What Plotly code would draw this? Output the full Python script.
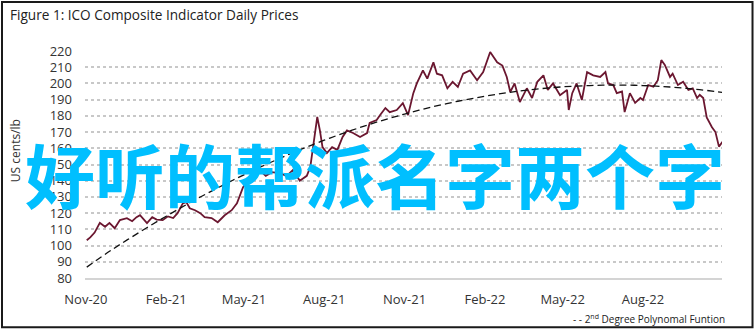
import plotly.graph_objects as go

# ---------------- data ----------------
price_dates = [
    "2020-11-02", "2020-11-06", "2020-11-11", "2020-11-17", "2020-11-23", "2020-11-28",
    "2020-12-04", "2020-12-10", "2020-12-18", "2020-12-24", "2020-12-29",
    "2021-01-02", "2021-01-10", "2021-01-16", "2021-01-21", "2021-01-28",
    "2021-02-03", "2021-02-09", "2021-02-14", "2021-02-20", "2021-02-24", "2021-02-28",
    "2021-03-06", "2021-03-12", "2021-03-17", "2021-03-25",
    "2021-04-01", "2021-04-09", "2021-04-17", "2021-04-23", "2021-04-30",
    "2021-05-04", "2021-05-08", "2021-05-11", "2021-05-19", "2021-05-26",
    "2021-06-02", "2021-06-11", "2021-06-19", "2021-06-26",
    "2021-07-04", "2021-07-12", "2021-07-16", "2021-07-19", "2021-07-24", "2021-07-27", "2021-07-30",
    "2021-08-04", "2021-08-10", "2021-08-16", "2021-08-22", "2021-08-27",
    "2021-09-03", "2021-09-11", "2021-09-19", "2021-09-22", "2021-09-30",
    "2021-10-04", "2021-10-10", "2021-10-15", "2021-10-23", "2021-10-30",
    "2021-11-05", "2021-11-11", "2021-11-15", "2021-11-22", "2021-11-27",
    "2021-12-04", "2021-12-08", "2021-12-14", "2021-12-20", "2021-12-26",
    "2022-01-01", "2022-01-07", "2022-01-15", "2022-01-23", "2022-01-30",
    "2022-02-07", "2022-02-15", "2022-02-21", "2022-02-26",
    "2022-03-02", "2022-03-07", "2022-03-13", "2022-03-21", "2022-03-27",
    "2022-04-02", "2022-04-09", "2022-04-14", "2022-04-20", "2022-04-28",
    "2022-05-06", "2022-05-08", "2022-05-12", "2022-05-17", "2022-05-23", "2022-05-29",
    "2022-06-05", "2022-06-13", "2022-06-19", "2022-06-22", "2022-06-28",
    "2022-07-02", "2022-07-08", "2022-07-11", "2022-07-17", "2022-07-23", "2022-07-29",
    "2022-08-01", "2022-08-07", "2022-08-13", "2022-08-18", "2022-08-22", "2022-08-26",
    "2022-09-01", "2022-09-04", "2022-09-10", "2022-09-16", "2022-09-22", "2022-09-27",
    "2022-10-02", "2022-10-05", "2022-10-09", "2022-10-13", "2022-10-19", "2022-10-23",
    "2022-10-27", "2022-10-31",
]
price_values = [
    103.3, 105.0, 108.0, 114.0, 111.6, 114.0,
    110.7, 115.7, 116.9, 115.0, 117.5,
    118.7, 113.8, 117.5, 116.0, 115.7,
    118.0, 117.0, 120.0, 126.0, 126.8, 123.0,
    121.8, 120.0, 117.5, 117.0,
    114.4, 118.7, 121.8, 126.0, 136.0,
    138.5, 140.0, 144.7, 146.5, 143.0,
    145.3, 144.7, 143.0, 146.5,
    140.0, 143.0, 148.4, 160.7, 179.3, 171.0, 160.7,
    157.0, 160.7, 159.0, 167.0, 171.0,
    169.4, 167.0, 169.4, 175.6, 177.4,
    180.5, 184.8, 182.3, 183.6, 187.9,
    180.5, 194.0, 200.0, 208.0, 203.0,
    213.0, 206.0, 205.0, 197.0, 201.0,
    197.8, 206.0, 208.0, 202.0, 207.0,
    219.4, 213.0, 211.0, 204.0,
    194.7, 200.0, 188.5, 197.0, 191.0,
    201.0, 205.0, 196.0, 200.0, 192.8,
    196.0, 183.6, 194.0, 200.0, 189.8, 207.0,
    205.0, 204.0, 207.0, 200.0, 199.0,
    194.0, 195.0, 182.3, 194.0, 188.0, 191.0,
    189.8, 199.0, 198.0, 202.0, 214.4, 211.4,
    204.0, 206.0, 199.0, 201.0, 196.0, 197.0,
    191.0, 193.0, 191.0, 179.0, 173.0, 170.0,
    161.0, 164.0,
]

trend_dates = [
    "2020-11-02", "2020-12-01", "2021-01-01", "2021-02-01", "2021-03-01", "2021-04-01",
    "2021-05-01", "2021-06-01", "2021-07-01", "2021-08-01", "2021-09-01", "2021-10-01",
    "2021-11-01", "2021-12-01", "2022-01-01", "2022-02-01", "2022-03-01", "2022-04-01",
    "2022-05-01", "2022-06-01", "2022-07-01", "2022-08-01", "2022-09-01", "2022-10-01",
    "2022-10-31",
]
trend_values = [
    86.7, 97.5, 108.1, 118.1, 126.7, 135.6,
    143.6, 151.4, 158.4, 165.0, 171.0, 176.3,
    181.1, 185.3, 189.0, 192.1, 194.5, 196.5,
    197.9, 198.7, 199.0, 198.7, 197.8, 196.4,
    194.5,
]

tick_dates = ["2020-11-01", "2021-02-01", "2021-05-01", "2021-08-01",
              "2021-11-01", "2022-02-01", "2022-05-01", "2022-08-01"]
tick_labels = ["Nov-20", "Feb-21", "May-21", "Aug-21",
               "Nov-21", "Feb-22", "May-22", "Aug-22"]
y_ticks = list(range(80, 230, 10))

title_text = "Figure 1: ICO Composite Indicator Daily Prices"
y_title = "US cents/lb"
legend_text = "- - 2<sup>nd</sup> Degree Polynomal Funtion"
overlay_text = "好听的帮派名字两个字"

FONT = "Open Sans, Lato, sans-serif"

fig = go.Figure()
fig.add_trace(go.Scatter(
    x=price_dates, y=price_values, mode="lines",
    line=dict(color="#6B1730", width=1.8),
    showlegend=False, hoverinfo="skip",
))
fig.add_trace(go.Scatter(
    x=trend_dates, y=trend_values, mode="lines",
    line=dict(color="#111111", width=1.3, dash="7px,4px", shape="spline"),
    showlegend=False, hoverinfo="skip",
))

fig.update_layout(
    width=755, height=333,
    margin=dict(l=85, r=33, t=51, b=55),
    paper_bgcolor="white", plot_bgcolor="white",
    font=dict(family=FONT, size=13, color="#333333"),
    showlegend=False,
    xaxis=dict(
        type="date",
        range=["2020-10-31", "2022-10-30 12:00"],
        tickvals=tick_dates, ticktext=tick_labels,
        showgrid=False, zeroline=False,
        showline=True, linecolor="#D4D4D4", linewidth=2,
        ticks="", ticklabelstandoff=8,
        tickfont=dict(family=FONT, size=13, color="#333333"),
        fixedrange=True,
    ),
    yaxis=dict(
        range=[80, 220],
        tickvals=y_ticks,
        showgrid=True, gridcolor="#C8C8C8", griddash="dot", gridwidth=1.5,
        zeroline=False, showline=False,
        ticks="", ticklabelstandoff=12,
        tickfont=dict(family=FONT, size=13, color="#333333"),
        fixedrange=True,
    ),
    annotations=[
        dict(text=title_text, xref="paper", yref="paper", x=-0.121, y=1.159,
             xanchor="left", yanchor="middle", showarrow=False,
             font=dict(family=FONT, size=13.6, color="#222222")),
        dict(text=y_title, xref="paper", yref="paper", x=-0.110, y=0.563,
             xanchor="center", yanchor="middle", showarrow=False, textangle=-90,
             font=dict(family=FONT, size=12, color="#333333")),
        dict(text=legend_text, xref="paper", yref="paper", x=1.008, y=-0.182,
             xanchor="right", yanchor="middle", showarrow=False,
             font=dict(family=FONT, size=10, color="#222222")),
        dict(text=overlay_text, xref="paper", yref="paper", x=0.456, y=0.462,
             xanchor="center", yanchor="middle", showarrow=False,
             font=dict(family="Noto Sans CJK SC", size=70, color="#00BFFF",
                       weight=700)),
    ],
    shapes=[
        dict(type="rect", xref="paper", yref="paper",
             x0=-0.1303, x1=1.0479, y0=-0.217, y1=1.216,
             line=dict(color="#1A1A1A", width=2), fillcolor="rgba(0,0,0,0)"),
    ],
)

fig.write_html("out.html")
